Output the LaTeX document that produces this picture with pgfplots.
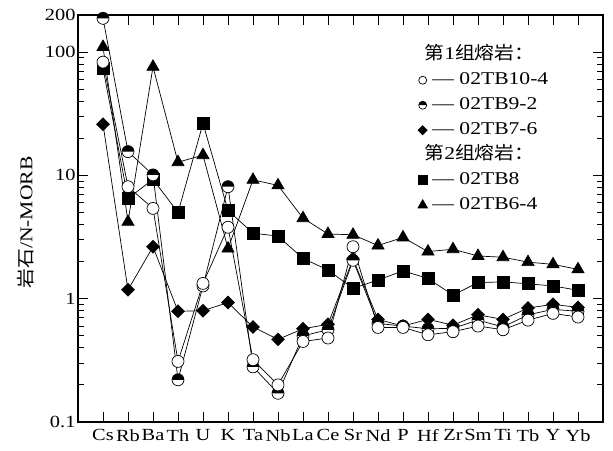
\documentclass[border=0pt]{standalone}
\usepackage{fontspec}
\setmainfont[FakeStretch=1.2]{Liberation Serif}
\newfontfamily\cjk[FakeStretch=1.1]{Noto Sans CJK SC}
\usepackage{pgfplots}
\usepackage{pgfplotstable}
\pgfplotsset{compat=1.18}

% circle, top half black
\pgfdeclareplotmark{halfo}{%
  \pgfpathcircle{\pgfpointorigin}{\pgfplotmarksize}%
  \pgfsetfillcolor{white}\pgfusepathqfill
  \pgfpathmoveto{\pgfqpoint{\pgfplotmarksize}{0pt}}%
  \pgfpatharc{0}{180}{\pgfplotmarksize}%
  \pgfpathclose
  \pgfsetfillcolor{black}\pgfusepathqfill
  \pgfpathcircle{\pgfpointorigin}{\pgfplotmarksize}%
  \pgfusepathqstroke
}

% Cs Rb Ba Th U K Ta Nb La Ce Sr Nd P Hf Zr Sm Ti Tb Y Yb
\pgfplotstableread{
x  tbA   tbB   tbC   tbD   tbE
0  83    188   26    74    110
1  8.1   15.6  1.18  6.5   4.2
2  5.4   10.1  2.64  9.3   76
3  0.31  0.22  0.79  5.0   12.8
4  1.33  1.27  0.80  26.4  14.6
5  3.8   8.1   0.93  5.2   2.55
6  0.32  0.28  0.59  3.4   9.2
7  0.20  0.171 0.468 3.22  8.3
8  0.45  0.50  0.57  2.12  4.5
9  0.48  0.56  0.62  1.71  3.35
10 2.64  2.05  2.10  1.21  3.3
11 0.585 0.63  0.68  1.42  2.7
12 0.585 0.60  0.60  1.68  3.14
13 0.51  0.57  0.68  1.46  2.41
14 0.54  0.575 0.61  1.07  2.52
15 0.60  0.67  0.74  1.35  2.22
16 0.56  0.59  0.68  1.37  2.17
17 0.67  0.74  0.84  1.32  1.98
18 0.76  0.82  0.90  1.27  1.90
19 0.71  0.79  0.85  1.17  1.73
}\data

\begin{document}
\begin{tikzpicture}
\useasboundingbox (-78pt,-28pt) rectangle (535pt,422pt);
\begin{axis}[
    scale only axis,
    width=525pt, height=407pt,
    ymode=log,
    xmin=-1, xmax=20,
    ymin=0.1, ymax=200,
    xtick={0,...,19},
    xticklabels={Cs,Rb,Ba,Th,U,K,Ta,Nb,La,Ce,Sr,Nd,P,Hf,Zr,Sm,Ti,Tb,Y,Yb},
    ytick={0.1,1,10,100,200},
    yticklabels={0.1,1,10,100,200},
    minor ytick={0.2,0.3,0.4,0.5,0.6,0.7,0.8,0.9,2,3,4,5,6,7,8,9,20,30,40,50,60,70,80,90},
    major tick length=10pt,
    minor tick length=6pt,
    every tick/.style={black, line width=0.8pt},
    axis line style={line width=1.5pt},
    tick label style={font=\fontsize{17}{20}\selectfont},
    xticklabel style={yshift=-4pt},
    yticklabel style={xshift=1pt},
    ylabel={{\cjk 岩石}/N-MORB},
    ylabel style={at={(axis description cs:-0.1,0.49)}, anchor=center,
                  font=\fontsize{18}{21}\selectfont},
    legend style={at={(0.898,0.925)}, anchor=north east, draw=none, fill=none,
                  inner sep=0pt, row sep=6pt,
                  font=\fontsize{18}{21}\selectfont,
                  nodes={inner sep=1pt, text height=13pt, text depth=4pt}},
    legend cell align=left,
    every axis plot/.append style={black, line width=0.7pt},
]
\addplot[mark=triangle*, mark size=7pt, forget plot] table[x=x, y=tbE] {\data};
\addplot[mark=square*, mark size=6pt, forget plot] table[x=x, y=tbD] {\data};
\addplot[mark=square*, mark size=4.5pt, mark options={rotate=45}, forget plot] table[x=x, y=tbC] {\data};
\addplot[mark=halfo, mark size=6pt, forget plot] table[x=x, y=tbB] {\data};
\addplot[mark=*, mark size=6pt, mark options={fill=white}, forget plot] table[x=x, y=tbA] {\data};

\addlegendimage{empty legend}
\addlegendentry{\hspace*{-4pt}{\cjk 第}1{\cjk 组熔岩：}}
\addlegendimage{only marks, mark=*, mark size=4pt, mark options={fill=white}, line width=0.7pt}
\addlegendentry{\hspace*{4pt}— 02TB10-4}
\addlegendimage{only marks, mark=halfo, mark size=4pt, line width=0.7pt}
\addlegendentry{\hspace*{4pt}— 02TB9-2}
\addlegendimage{only marks, mark=square*, mark size=3.2pt, mark options={rotate=45}}
\addlegendentry{\hspace*{4pt}— 02TB7-6}
\addlegendimage{empty legend}
\addlegendentry{\hspace*{-4pt}{\cjk 第}2{\cjk 组熔岩：}\rule[-9pt]{0pt}{9pt}}
\addlegendimage{only marks, mark=square*, mark size=4.5pt}
\addlegendentry{\hspace*{4pt}— 02TB8}
\addlegendimage{only marks, mark=triangle*, mark size=5.5pt}
\addlegendentry{\hspace*{4pt}— 02TB6-4}
\end{axis}
\end{tikzpicture}
\end{document}
